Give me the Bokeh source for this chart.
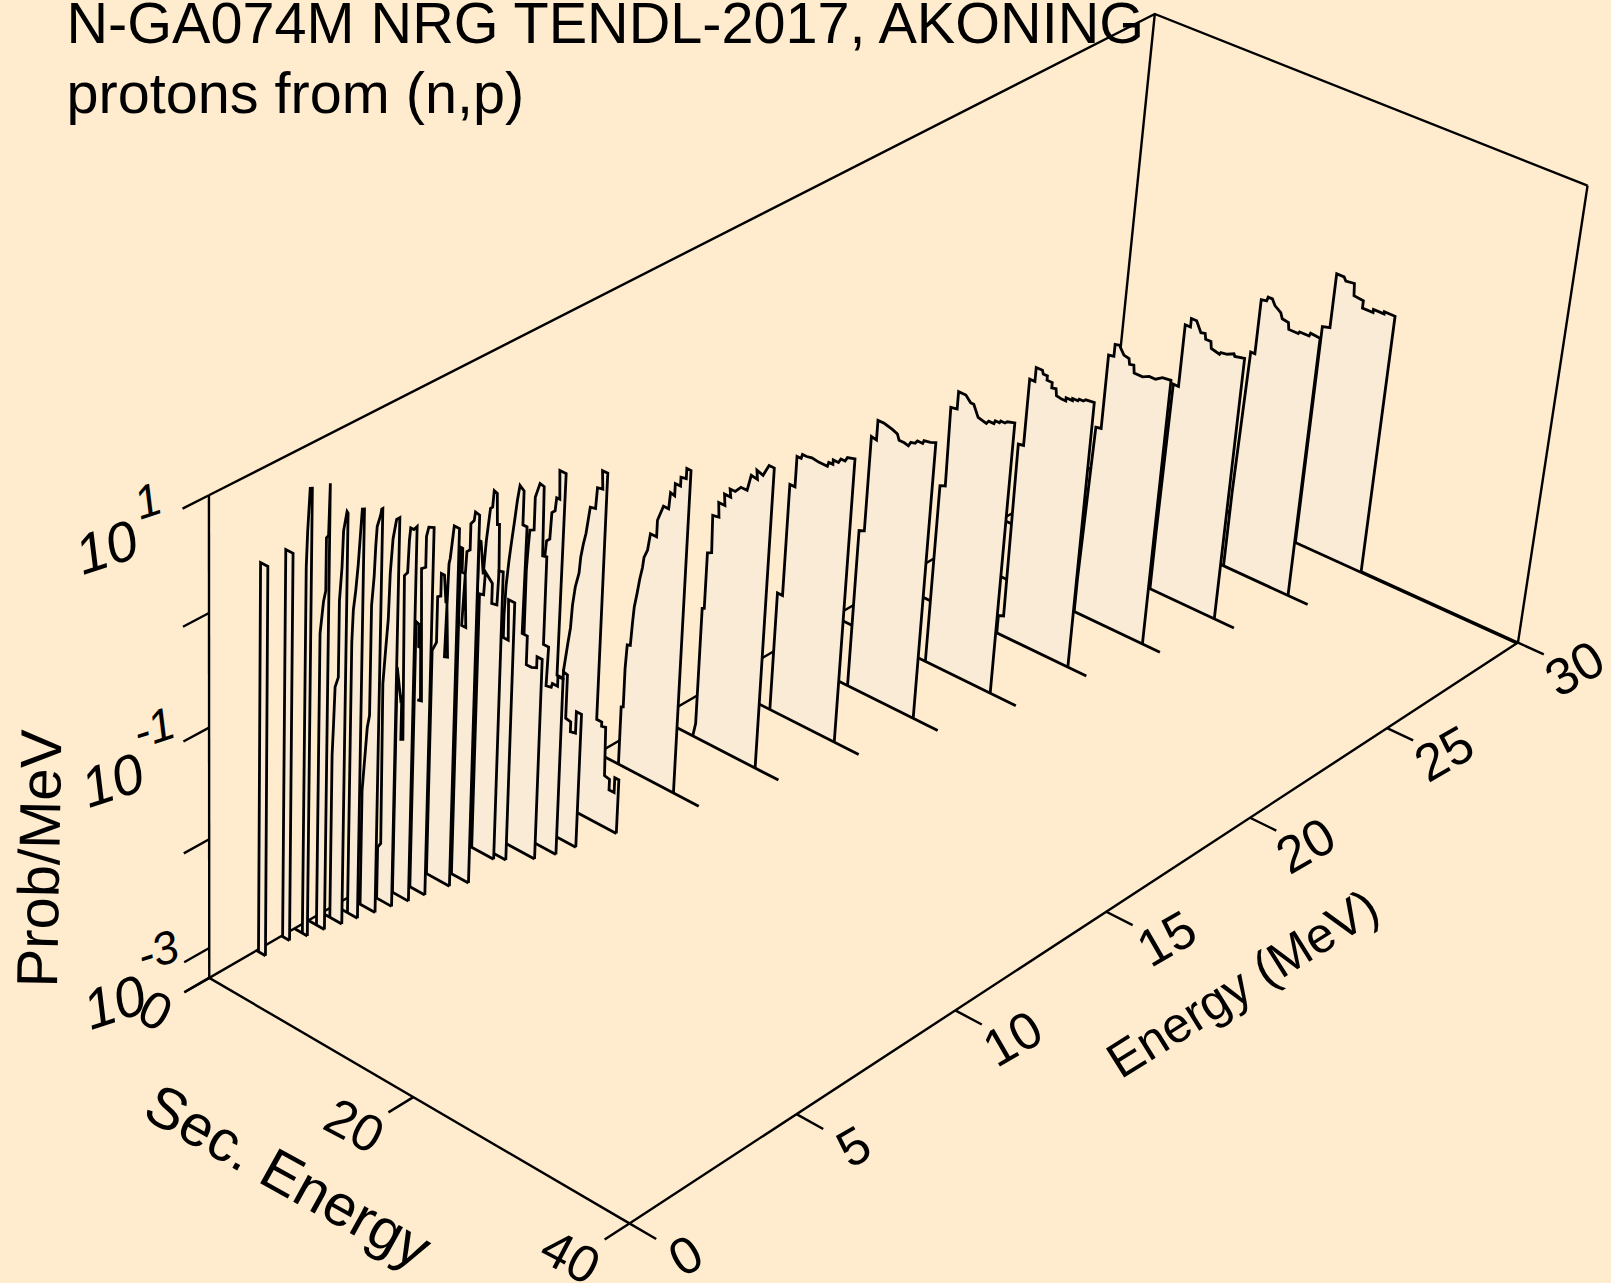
import numpy as np
from bokeh.plotting import figure
from bokeh.models import Range1d
from bokeh.core.properties import value
from bokeh.embed import file_html
from bokeh.resources import INLINE

BG = "#FFEBCD"
CURTAIN = "#FAEBD7"
FONT = "Liberation Sans"
LOG_MIN = -3.28
LOG_MAX = 1.0
E_MAX = 30.0
S_MAX = 40.0

title_lines = ["N-GA074M NRG TENDL-2017, AKONING", "protons from (n,p)"]
energy_ticks = [0, 5, 10, 15, 20, 25, 30]
sec_ticks = [0, 20, 40]
prob_ticks = [-3, -2, -1, 0, 1]

# incident energy (MeV), front to back; then outgoing-energy vertices and log10(Prob/MeV)
E_L1 = 1.38;  S_L1 = [0.2,0.9]; P_L1 = [0.22,0.22]
E_L2 = 2.12;  S_L2 = [0.1,0.8]; P_L2 = [0.21,0.21]
E_L3 = 2.50;  S_L3 = [0.8,0.9,1.1,1.3]; P_L3 = [0.03,0.34,0.72,0.73]
E_L4 = 2.92;  S_L4 = [0.8,0.8,1.1,1.3,1.3,1.5,1.6,1.6]; P_L4 = [-0.95,-0.62,-0.32,-0.22,0.24,0.27,0.71,0.72]
E_L5 = 3.32;  S_L5 = [0.8,0.9,1.0,1.3,1.3,1.5,1.6,1.9,2.0]; P_L5 = [-1.78,-1.49,-1.15,-1.05,-0.37,-0.07,0.25,0.43,0.42]
E_L6 = 3.70;  S_L6 = [1.3,1.4,1.6,1.8,2.0,2.1,2.3]; P_L6 = [-0.80,-0.51,-0.33,-0.09,0.24,0.40,0.41]
E_L7 = 4.11;  S_L7 = [1.2,1.4,1.6,1.8,1.8,2.0,2.1,2.2,2.5,2.6,2.7]; P_L7 = [-2.22,-1.92,-1.62,-1.50,-0.52,-0.25,0.02,0.19,0.30,0.36,0.37]
E_L8 = 4.52;  S_L8 = [1.5,1.8,1.7,1.9,2.1,2.2,2.4,2.7,3.0]; P_L8 = [-2.80,-2.75,-1.29,-0.98,-0.69,-0.28,0.03,0.21,0.24]
E_L9 = 4.91;  S_L9 = [1.8,2.2,2.3,2.3,2.5,2.3,2.6,2.7,2.8,3.1,3.4]; P_L9 = [-1.20,-1.47,-1.45,-1.83,-1.82,-0.36,-0.32,-0.03,0.08,0.08,0.12]
E_L10 = 5.32; S_L10 = [2.2,2.5,2.5,2.7,2.8,2.5,2.9,2.6,3.0,3.0,3.2,3.7]; P_L10 = [-0.84,-0.85,-1.05,-1.05,-1.52,-1.53,-1.52,-0.35,-0.32,-0.05,0.04,0.06]
E_L11 = 5.92; S_L11 = [1.9,2.3,2.3,2.6,2.6,2.9,3.1,3.2,3.4,3.1,3.3,3.4,3.7,4.2]; P_L11 = [-1.21,-1.12,-0.71,-0.69,-0.49,-0.49,-0.72,-0.72,-1.20,-1.21,-0.37,-0.32,-0.02,-0.02]
E_L12 = 6.29; S_L12 = [3.2,3.4,3.4,3.7,3.9,3.5,3.8,4.1,4.1,4.4,4.5,4.9]; P_L12 = [-0.29,-0.29,-0.50,-0.50,-0.97,-0.97,-0.30,-0.27,-0.04,-0.00,0.08,0.07]
E_M = 7.32;   S_M = [1.9,2.3,2.4,3.1,3.1,3.6,3.7,4.1]; P_M = [-0.93,-0.92,-0.71,-0.78,-0.96,-0.95,-0.64,-0.63]
E_Q = 7.48;   S_Q = [1.2,1.4,1.7,1.9,2.2,2.4,2.5,2.8,2.9,3.1,3.2,3.7,4.3,4.2,4.8]; P_Q = [-0.51,-0.51,-0.79,-0.48,-0.18,-0.16,-0.01,-0.02,-0.29,-0.28,-0.69,-1.26,-1.26,-0.90,-0.90]
E_R14 = 7.94; S_R14 = [2.4,2.4,2.5,2.7,2.9,3.1,3.3,3.5,3.9,3.9,4.3,4.2,4.7,4.7,5.2,5.7,5.7,6.2]; P_R14 = [-1.40,-1.19,-0.93,-0.69,-0.50,-0.32,-0.13,0.01,-0.02,-0.32,-0.32,-1.28,-1.28,-1.54,-1.54,-1.52,-1.42,-1.42]
E_R13 = 8.39; S_R13 = [3.0,3.1,3.2,3.6,3.6,3.8,4.0,4.4,4.5,4.9,4.9,5.4,5.3,5.8,5.9,6.4,6.4,6.9]; P_R13 = [-0.84,-0.63,-0.47,-0.45,-0.16,-0.09,-0.02,-0.03,-0.64,-0.63,-1.42,-1.42,-1.78,-1.77,-1.73,-1.73,-1.64,-1.64]
E_R12 = 8.89; S_R12 = [3.2,3.3,3.6,3.7,4.0,4.1,4.4,4.3,4.9,4.8,5.4,5.4,5.8,5.8,6.3,6.3,6.8,6.8,7.3]; P_R12 = [-0.77,-0.64,-0.61,-0.37,-0.34,-0.22,-0.22,0.03,0.03,-1.79,-1.79,-1.73,-1.74,-2.14,-2.15,-2.24,-2.23,-2.03,-2.03]
E_R11 = 9.89; S_R11 = [2.4,2.7,2.9,3.0,3.2,3.5,3.6,3.8,4.0,4.3,4.8,4.9,5.4,5.3,5.8,5.8,6.3,6.3,6.7,6.8,7.3,7.3,7.8,7.8,8.2]; P_R11 = [-2.03,-1.77,-1.61,-1.40,-1.22,-1.08,-0.93,-0.80,-0.70,-0.45,-0.44,-0.25,-0.24,-0.08,-0.08,-2.32,-2.32,-2.36,-2.35,-2.80,-2.81,-2.91,-2.91,-2.77,-2.77]
E_R10 = 11.93; T_R10 = 10.1; S_R10 = [2.1,2.1,2.3,2.3,2.4,2.7,2.8,2.9,3.1,3.3,3.5,3.6,3.9,4.1,4.7,4.7,5.2,5.7,5.8,6.2,6.2,6.7,6.7,7.2,7.2,7.6]; P_R10 = [-3.28,-2.73,-2.72,-2.36,-2.13,-2.12,-1.91,-1.75,-1.62,-1.47,-1.36,-1.26,-1.18,-1.02,-1.02,-0.87,-0.72,-0.72,-0.57,-0.58,-0.47,-0.47,-0.39,-0.38,-0.29,-0.29]
E_R9 = 13.92; T_R9 = 12.0; S_R9 = [3.5,3.7,3.7,3.9,3.9,4.3,4.2,4.8,4.7,5.3,5.2,5.8,5.7,6.2,6.7,7.3,7.6,8.2,8.1,8.7,9.2,9.7]; P_R9 = [-3.27,-3.15,-2.05,-2.04,-1.52,-1.50,-1.16,-1.15,-1.02,-1.02,-0.92,-0.92,-0.85,-0.85,-0.79,-0.79,-0.64,-0.65,-0.57,-0.59,-0.48,-0.48]
E_R8 = 15.93; T_R8 = 14.0; S_R8 = [5.2,5.2,5.7,5.7,6.2,6.2,6.6,6.7,7.1,7.6,8.3,8.4,9.1,9.2,9.6,9.6,10.1,10.3,10.7,10.9,11.6]; P_R8 = [-3.27,-2.16,-2.16,-1.12,-1.12,-0.84,-0.84,-0.80,-0.80,-0.79,-0.80,-0.80,-0.80,-0.76,-0.76,-0.72,-0.72,-0.68,-0.68,-0.64,-0.62]
E_R7 = 17.90; T_R7 = 16.1; S_R7 = [7.2,7.2,7.7,7.7,8.2,8.2,8.8,9.6,10.1,10.3,10.8,11.2,11.4,11.8,12.0,12.5,12.6,13.2,13.7]; P_R7 = [-3.28,-1.79,-1.77,-0.89,-0.90,-0.72,-0.72,-0.74,-0.76,-0.81,-0.81,-0.82,-0.78,-0.77,-0.74,-0.74,-0.71,-0.70,-0.68]
E_R6 = 19.91; T_R6 = 18.1; S_R6 = [9.2,9.2,9.7,9.6,10.2,10.2,10.9,11.4,11.7,12.2,13.0,13.2,13.7,13.8,14.2,14.3,14.7,14.9,15.6]; P_R6 = [-3.28,-1.59,-1.57,-0.84,-0.83,-0.67,-0.67,-0.72,-0.72,-0.82,-0.84,-0.81,-0.81,-0.78,-0.78,-0.76,-0.76,-0.74,-0.72]
E_R5 = 21.98; T_R5 = 19.3; S_R5 = [10.5,11.0,10.9,11.4,11.4,11.9,11.9,12.5,12.6,13.0,13.0,13.5,13.5,13.9,14.0,14.5,14.9,14.9,15.5,15.5,16.0,16.1,16.5,16.7,17.5]; P_R5 = [-3.11,-3.09,-1.44,-1.43,-0.81,-0.81,-0.68,-0.68,-0.71,-0.71,-0.75,-0.75,-0.80,-0.79,-0.85,-0.86,-0.86,-0.83,-0.83,-0.81,-0.81,-0.79,-0.79,-0.77,-0.76]
E_R4 = 23.94; T_R4 = 21.2; S_R4 = [12.8,13.1,13.6,13.6,14.1,14.1,14.5,15.0,15.5,15.6,16.0,16.1,16.9,17.5,18.1,18.7,19.5]; P_R4 = [-2.96,-1.48,-1.47,-0.78,-0.77,-0.66,-0.65,-0.72,-0.73,-0.78,-0.77,-0.84,-0.84,-0.81,-0.81,-0.77,-0.76]
E_R3 = 25.95; T_R3 = 23.1; S_R3 = [14.9,15.0,15.5,15.5,16.0,16.0,16.5,17.0,17.4,17.5,18.0,18.1,18.9,19.0,19.6,20.2,20.3,21.2]; P_R3 = [-2.71,-1.29,-1.29,-0.71,-0.71,-0.63,-0.63,-0.72,-0.71,-0.76,-0.76,-0.82,-0.84,-0.82,-0.81,-0.78,-0.80,-0.78]
E_R2 = 27.95; T_R2 = 25.1; S_R2 = [16.9,17.1,17.5,17.5,18.0,18.1,18.5,18.8,19.4,19.6,20.2,20.3,21.2,21.3,22.2,22.3,23.2]; P_R2 = [-2.55,-1.19,-1.19,-0.68,-0.67,-0.63,-0.63,-0.68,-0.72,-0.77,-0.78,-0.84,-0.84,-0.82,-0.82,-0.79,-0.80]
E_R1 = 29.96; T_R1 = 40.0; S_R1 = [18.8,18.8,19.5,19.5,20.2,20.4,21.2,21.3,22.2,22.2,23.2,23.2,24.2,24.2,25.2]; P_R1 = [-2.46,-1.17,-1.15,-0.64,-0.64,-0.67,-0.66,-0.77,-0.78,-0.85,-0.85,-0.82,-0.82,-0.80,-0.80]

curtains = [
    (E_R1,S_R1,P_R1,T_R1),(E_R2,S_R2,P_R2,T_R2),(E_R3,S_R3,P_R3,T_R3),(E_R4,S_R4,P_R4,T_R4),(E_R5,S_R5,P_R5,T_R5),
    (E_R6,S_R6,P_R6,T_R6),(E_R7,S_R7,P_R7,T_R7),(E_R8,S_R8,P_R8,T_R8),(E_R9,S_R9,P_R9,T_R9),(E_R10,S_R10,P_R10,T_R10),
    (E_R11,S_R11,P_R11,None),(E_R12,S_R12,P_R12,None),(E_R13,S_R13,P_R13,None),(E_R14,S_R14,P_R14,None),
    (E_Q,S_Q,P_Q,None),(E_M,S_M,P_M,None),(E_L12,S_L12,P_L12,None),(E_L11,S_L11,P_L11,None),(E_L10,S_L10,P_L10,None),
    (E_L9,S_L9,P_L9,None),(E_L8,S_L8,P_L8,None),(E_L7,S_L7,P_L7,None),(E_L6,S_L6,P_L6,None),(E_L5,S_L5,P_L5,None),
    (E_L4,S_L4,P_L4,None),(E_L3,S_L3,P_L3,None),(E_L2,S_L2,P_L2,None),(E_L1,S_L1,P_L1,None),
]

# perspective camera, fitted to the box of the reference (E, S, log10 P -> page px)
camera_anchors = [
    (0,0,LOG_MIN,208.6,978),(0,0,1,208.6,495),(0,0,0,208.6,613),(0,0,-1,208.6,727),(0,0,-2,208.6,838),(0,0,-3,208.6,947),
    (0,40,LOG_MIN,626.7,1222.6),(30,40,LOG_MIN,1517,643),(30,0,LOG_MIN,1109,456),(30,0,1,1153.8,13.4),(30,40,1,1587.4,185),
    (0,20,LOG_MIN,414,1098),(5,40,LOG_MIN,796,1112.7),(10,40,LOG_MIN,955.5,1010),(15,40,LOG_MIN,1107.6,909.3),
    (20,40,LOG_MIN,1248.3,818.9),(25,40,LOG_MIN,1387,727.4),
]
def hom(E, S, L):
    return [E/E_MAX, S/S_MAX, (L-LOG_MIN)/(LOG_MAX-LOG_MIN), 1.0]
rows = []
for E, S, L, u, v in camera_anchors:
    X = hom(E, S, L); u /= 1000; v /= 1000
    rows.append(X+[0,0,0,0]+[-u*a for a in X]); rows.append([0,0,0,0]+X+[-v*a for a in X])
CAM = np.linalg.svd(np.array(rows))[2][-1].reshape(3, 4)
def project(E, S, L):
    E, S, L = np.broadcast_arrays(np.asarray(E,float), np.asarray(S,float), np.asarray(L,float))
    X = np.stack([E/E_MAX, S/S_MAX, (L-LOG_MIN)/(LOG_MAX-LOG_MIN), np.ones_like(E)])
    w = CAM @ X
    return w[0]/w[2]*1000, w[1]/w[2]*1000

W, H = 1611, 1283
p = figure(width=W, height=H, x_range=Range1d(0, W), y_range=Range1d(H, 0),
           toolbar_location=None, output_backend="svg", x_axis_location=None, y_axis_location=None,
           background_fill_color=BG, border_fill_color=BG, outline_line_color=None, min_border=0)
p.grid.visible = False

def seg(Es, Ss, Ls, lw=2.4):
    x, y = project(Es, Ss, Ls)
    p.line(x.tolist(), y.tolist(), line_color="black", line_width=lw, line_join="miter", line_cap="butt")

# box behind the curtains
seg([0,E_MAX],[0,0],[LOG_MIN,LOG_MIN])
seg([E_MAX,E_MAX],[0,S_MAX],[LOG_MIN,LOG_MIN])
seg([E_MAX,E_MAX],[0,0],[LOG_MIN,LOG_MAX])
seg([E_MAX,E_MAX],[S_MAX,S_MAX],[LOG_MIN,LOG_MAX])
seg([0,E_MAX,E_MAX],[0,0,S_MAX],[LOG_MAX,LOG_MAX,LOG_MAX])
seg([0,0],[0,0],[LOG_MIN,LOG_MAX])

# curtains, back to front
for E, S, P, T in curtains:
    fx, fy = project(E, [S[0]]+S+[S[-1]], [LOG_MIN]+P+[LOG_MIN])
    p.patch(fx.tolist(), fy.tolist(), fill_color=CURTAIN, line_color=None)
    seg(E, [0, T if T is not None else S[-1]], [LOG_MIN, LOG_MIN], lw=2.8)
    seg(E, [S[0]] + S + [S[-1]], [LOG_MIN] + P + [LOG_MIN], lw=2.8)

# front axes and ticks
seg([0,0],[0,S_MAX],[LOG_MIN,LOG_MIN])
seg([0,E_MAX],[S_MAX,S_MAX],[LOG_MIN,LOG_MIN])
E_TICK_LEN, S_TICK_LEN = 0.72, 2.4
for L in prob_ticks + [LOG_MIN]:
    seg([0,-E_TICK_LEN],[0,0],[L,L])
for S in sec_ticks:
    seg([0,-E_TICK_LEN],[S,S],[LOG_MIN,LOG_MIN])
for E in energy_ticks:
    seg([E,E],[S_MAX,S_MAX+S_TICK_LEN],[LOG_MIN,LOG_MIN])

def txt(x, y, s, size, angle=0, align="center", base="middle", style="normal"):
    p.text([x],[y],text=[s],text_font=value(FONT),text_font_size=f"{size}px",angle=angle,angle_units="deg",
           text_align=align,text_baseline=base,text_color="black",text_font_style=style)

txt(66,22,title_lines[0],57.6,align="left",base="alphabetic")
txt(66,92,title_lines[1],57.6,align="left",base="alphabetic")
txt(36,987,"Prob/MeV",58,angle=89,align="left",base="alphabetic")
txt(288,1175,"Sec. Energy",58,angle=-29)
txt(1242,983,"Energy (MeV)",50,angle=32)
for s,x,y in zip(energy_ticks,[685,853,1012,1166,1305,1443.5,1574],[1255,1146,1038,938,845,753,668]):
    txt(x,y,str(s),52,angle=30)
for s,x,y in zip(sec_ticks,[155,354,570],[1010,1125,1256]):
    txt(x,y,str(s),52,angle=-28)
for bx,by,ex,ey,e in [(106,547,147,500,"1"),(112,780,153,727,"-1"),(114,1002,157,950,"-3")]:
    txt(bx,by,"10",56,angle=18,style="italic")
    txt(ex,ey,e,46,angle=18,style="italic")

html = file_html(p, INLINE)
html = html.replace("</head>", f"<style>html,body{{background:{BG};}}</style></head>",1)
open("out.html","w").write(html)
